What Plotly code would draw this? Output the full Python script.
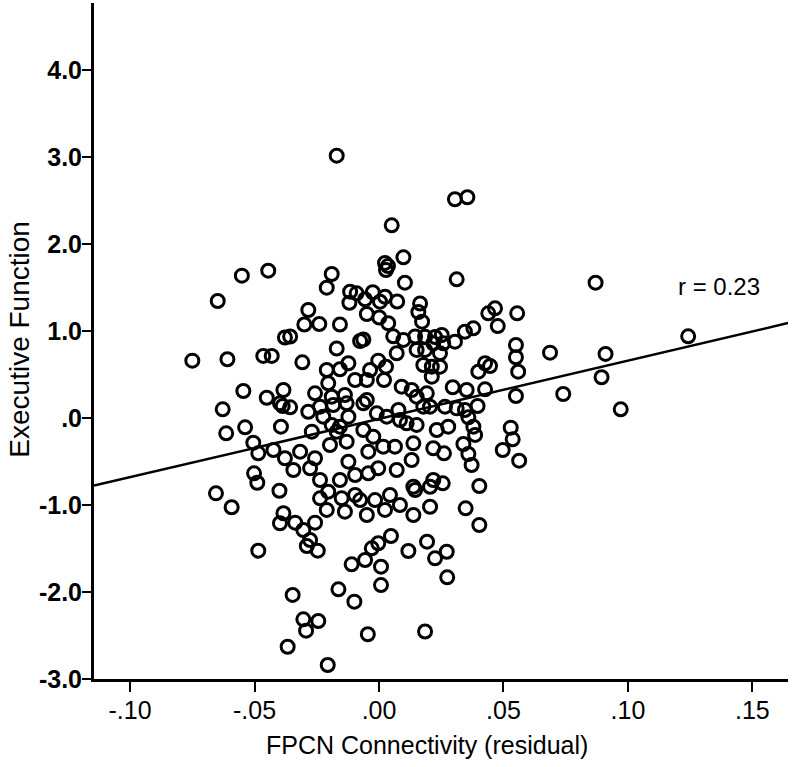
import plotly.graph_objects as go

# FPCN connectivity (residual) values
fpcn = [
 -0.0170, 0.0051, 0.0024, 0.0036, 0.0028, 0.0098, 0.0104, -0.0551, -0.0445, -0.0648,
 -0.0190, -0.0210, -0.0116, -0.0090, -0.0025, -0.0119, -0.0056, 0.0004, 0.0024, 0.0073,
 -0.0049, 0.0001, 0.0037, 0.0165, 0.0158, 0.0173, -0.0284, -0.0300, -0.0240, -0.0157,
 -0.0378, -0.0357, -0.0076, -0.0063, 0.0057, 0.0098, 0.0145, 0.0225, 0.0252, 0.0218,
 -0.0170, 0.0305, 0.0355, 0.0312, 0.0870, 0.0439, 0.0466, 0.0555, 0.0477, 0.0379,
 0.0345, 0.0305, 0.0258, 0.0550, 0.0550, 0.0559, 0.0687, 0.0910, 0.0894, 0.0740,
 0.0971, 0.0550, 0.1242, 0.0426, 0.0446, 0.0399, 0.0426, 0.0352, 0.0296, 0.0396,
 0.0345, 0.0359, 0.0379, 0.0386, 0.0339, 0.0359, 0.0372, 0.0529, 0.0537, 0.0497,
 0.0563, 0.0256, 0.0403, 0.0348, 0.0403, 0.0272, 0.0225, 0.0274, 0.0185, 0.0232,
 0.0278, 0.0218, 0.0261, 0.0205, 0.0205, 0.0193, -0.0750, -0.0609, -0.0465, -0.0431,
 -0.0308, -0.0545, -0.0628, -0.0614, -0.0538, -0.0451, -0.0384, -0.0387, -0.0357, -0.0394,
 -0.0505, -0.0485, -0.0424, -0.0502, -0.0489, -0.0655, -0.0592, -0.0400, -0.0485, -0.0384,
 -0.0398, -0.0337, -0.0304, -0.0277, -0.0290, -0.0246, -0.0257, -0.0347, -0.0304, -0.0244,
 -0.0293, -0.0367, -0.0206, -0.0163, -0.0099, -0.0045, 0.0008, 0.0008, -0.0110, -0.0056,
 -0.0029, -0.0003, 0.0048, 0.0118, 0.0071, 0.0151, 0.0185, 0.0245, 0.0178, 0.0245,
 0.0212, -0.0210, -0.0157, -0.0204, -0.0123, -0.0036, -0.0003, 0.0028, 0.0020, -0.0096,
 -0.0049, -0.0257, -0.0190, -0.0137, -0.0130, -0.0049, 0.0091, 0.0131, 0.0151, 0.0192,
 -0.0317, -0.0378, -0.0344, -0.0270, -0.0284, -0.0224, -0.0190, -0.0123, -0.0130, -0.0197,
 -0.0063, -0.0023, 0.0064, 0.0017, -0.0043, -0.0257, -0.0237, -0.0277, -0.0123, -0.0157,
 -0.0096, -0.0043, -0.0003, 0.0071, 0.0131, 0.0138, 0.0151, 0.0078, 0.0084, 0.0205,
 0.0265, 0.0312, 0.0138, -0.0204, -0.0237, -0.0150, -0.0096, -0.0210, -0.0137, -0.0049,
 -0.0016, 0.0024, 0.0044, 0.0084, 0.0138, 0.0145, -0.0398, -0.0237, -0.0184, -0.0063,
 -0.0009, 0.0031, -0.0170, -0.0157, 0.0178, 0.0111, 0.0212, 0.0185, -0.0076, 0.0218,
]

# Executive function scores
exec_fn = [
 3.015, 2.215, 1.782, 1.747, 1.701, 1.847, 1.555, 1.636, 1.693, 1.345,
 1.655, 1.498, 1.452, 1.433, 1.445, 1.325, 1.364, 1.337, 1.394, 1.339,
 1.195, 1.155, 1.089, 1.316, 1.218, 1.107, 1.241, 1.075, 1.080, 1.075,
 0.925, 0.937, 0.885, 0.902, 0.939, 0.897, 0.937, 0.931, 0.954, 0.859,
 0.799, 2.514, 2.537, 1.594, 1.555, 1.203, 1.261, 1.203, 1.057, 1.031,
 0.992, 0.877, 0.859, 0.839, 0.698, 0.532, 0.751, 0.736, 0.468, 0.276,
 0.100, 0.253, 0.939, 0.629, 0.598, 0.532, 0.330, 0.322, 0.353, 0.138,
 0.092, 0.008, -0.100, -0.195, -0.299, -0.414, -0.540, -0.111, -0.245, -0.368,
 -0.491, -0.751, -0.782, -1.038, -1.230, -1.537, -1.613, -1.831, -2.454, -0.138,
 -0.100, -0.348, -0.406, -0.790, -1.020, -1.422, 0.659, 0.675, 0.713, 0.713,
 0.640, 0.310, 0.100, -0.176, -0.107, 0.233, 0.322, 0.138, 0.123, -0.100,
 -0.284, -0.406, -0.368, -0.636, -0.744, -0.866, -1.026, -0.836, -1.525, -1.095,
 -1.210, -1.203, -1.287, -1.402, -1.471, -1.525, -1.203, -2.034, -2.314, -2.333,
 -2.445, -2.629, -2.839, -1.969, -2.111, -2.486, -1.920, -1.709, -1.682, -1.632,
 -1.498, -1.440, -1.356, -1.529, 0.744, 0.782, 0.782, 0.744, 0.609, 0.590,
 0.475, 0.552, 0.560, 0.399, 0.629, 0.552, 0.659, 0.590, 0.437, 0.437,
 0.437, 0.284, 0.245, 0.264, 0.169, 0.207, 0.360, 0.322, 0.245, 0.284,
 -0.387, -0.463, -0.598, -0.157, 0.072, 0.015, -0.080, 0.015, -0.272, -0.310,
 -0.138, -0.215, -0.330, -0.330, -0.387, -0.463, -0.713, -0.578, -0.502, -0.713,
 -0.655, -0.636, -0.578, -0.598, -0.483, -0.291, -0.080, 0.092, -0.023, 0.130,
 0.130, 0.111, -0.790, -0.847, -0.923, -0.923, -0.885, -1.057, -1.077, -1.115,
 -0.943, -1.057, -0.885, -1.000, -1.115, -0.828, 0.169, 0.130, 0.149, 0.169,
 0.054, 0.015, -0.157, -0.100, 0.130, -0.061, 0.590, 0.934, -0.943, -0.713,
]

# Fit line and axis setup
fit_slope = 6.7
fit_intercept = -0.01
x_range = [-0.1145, 0.1643]
y_range = [-3.0, 4.77]
x_tick_vals = [-0.10, -0.05, 0.00, 0.05, 0.10, 0.15]
x_tick_text = ["-.10", "-.05", ".00", ".05", ".10", ".15"]
y_tick_vals = [-3, -2, -1, 0, 1, 2, 3, 4]
y_tick_text = ["-3.0", "-2.0", "-1.0", ".0", "1.0", "2.0", "3.0", "4.0"]
r_label = "r = 0.23"
r_pos = (0.1365, 1.517)
x_title = "FPCN Connectivity (residual)"
x_title_center = 0.0193
y_title = "Executive Function"
y_title_center = 0.9

font_family = "Liberation Sans, Arial, sans-serif"

fig = go.Figure()
fig.add_trace(go.Scatter(
    x=fpcn, y=exec_fn, mode="markers",
    marker=dict(symbol="circle-open", size=13, color="black",
                line=dict(width=3, color="black")),
    showlegend=False, cliponaxis=False,
))
line_x = x_range
line_y = [fit_intercept + fit_slope * v for v in line_x]
fig.add_trace(go.Scatter(
    x=line_x, y=line_y, mode="lines",
    line=dict(color="black", width=2.5), showlegend=False,
))
fig.add_annotation(x=r_pos[0], y=r_pos[1], text=r_label, showarrow=False,
                   font=dict(family=font_family, size=24, color="black"),
                   xanchor="center", yanchor="middle")
fig.add_annotation(x=x_title_center, xref="x", y=0, yref="paper", yshift=-66,
                   text=x_title, showarrow=False,
                   font=dict(family=font_family, size=25, color="black"),
                   xanchor="center", yanchor="middle")
fig.add_annotation(x=0, xref="paper", xshift=-74, y=y_title_center, yref="y",
                   text=y_title, showarrow=False, textangle=-90,
                   font=dict(family=font_family, size=28, color="black"),
                   xanchor="center", yanchor="middle")

fig.update_layout(
    width=792, height=767,
    margin=dict(l=94, r=4, t=3, b=88),
    paper_bgcolor="white", plot_bgcolor="white",
    font=dict(family=font_family, color="black"),
    xaxis=dict(range=x_range, tickvals=x_tick_vals, ticktext=x_tick_text,
               showgrid=False, zeroline=False, showline=True, linecolor="black",
               linewidth=3, ticks="outside", ticklen=10, tickwidth=2,
               tickcolor="black", ticklabelstandoff=-3,
               tickfont=dict(size=25, family=font_family)),
    yaxis=dict(range=y_range, tickvals=y_tick_vals, ticktext=y_tick_text,
               showgrid=False, zeroline=False, showline=True, linecolor="black",
               linewidth=3, ticks="outside", ticklen=9, tickwidth=2,
               tickcolor="black", ticklabelstandoff=-5,
               tickfont=dict(size=25, family="Liberation Sans, Arial", weight="bold")),
)

fig.write_html("out.html", config={"displayModeBar": False},
               post_script="document.body.style.margin='0';document.body.style.padding='0';")
